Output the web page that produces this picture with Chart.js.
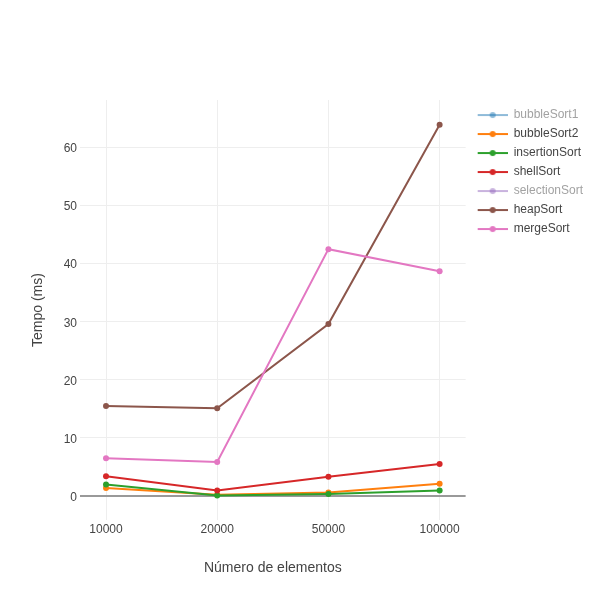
<!DOCTYPE html>
<html>
<head>
<meta charset="utf-8">
<script src="https://cdn.jsdelivr.net/npm/chart.js@4/dist/chart.umd.min.js"></script>
<style>
  html, body { margin: 0; padding: 0; background: #fff; }
  #wrap { width: 600px; height: 600px; }
</style>
</head>
<body>
<div id="wrap"><canvas id="chart"></canvas></div>
<script>
// x categories (number of elements)
const xLabels = ["10000", "20000", "50000", "100000"];

// times in ms
// bubbleSort1 and selectionSort are switched off in the legend, no values visible
const bubbleSort1 = [null, null, null, null];
const bubbleSort2 = [1.4, 0.2, 0.6, 2.1];
const insertionSort = [2.0, 0.1, 0.35, 0.95];
const shellSort = [3.4, 0.95, 3.3, 5.5];
const selectionSort = [null, null, null, null];
const heapSort = [15.5, 15.1, 29.6, 63.9];
const mergeSort = [6.5, 5.85, 42.5, 38.7];

const seriesNames = ["bubbleSort1", "bubbleSort2", "insertionSort", "shellSort", "selectionSort", "heapSort", "mergeSort"];
const seriesValues = [bubbleSort1, bubbleSort2, insertionSort, shellSort, selectionSort, heapSort, mergeSort];
const seriesColors = ["#1f77b4", "#ff7f0e", "#2ca02c", "#d62728", "#9467bd", "#8c564b", "#e377c2"];
const legendOnly = [true, false, false, false, true, false, false];
const yTicks = [0, 10, 20, 30, 40, 50, 60];

Chart.defaults.font.family = '"Liberation Sans", Arial, sans-serif';
Chart.defaults.font.size = 12;
Chart.defaults.color = "#444";

// little line+dot picture for each legend entry (5px blank on the left)
function legendIcon(color, faded) {
  const c = document.createElement("canvas");
  c.width = 35;
  c.height = 8;
  const g = c.getContext("2d");
  g.globalAlpha = faded ? 0.5 : 1;
  g.strokeStyle = color;
  g.fillStyle = color;
  g.lineWidth = 2;
  g.beginPath();
  g.moveTo(5, 4);
  g.lineTo(35, 4);
  g.stroke();
  g.beginPath();
  g.arc(20, 4, 3, 0, Math.PI * 2);
  g.fill();
  return c;
}
const icons = seriesColors.map((c, i) => legendIcon(c, legendOnly[i]));

const datasets = seriesNames.map((name, i) => ({
  label: name,
  data: seriesValues[i].map((v, j) => ({ x: j, y: v })),
  borderColor: seriesColors[i],
  backgroundColor: seriesColors[i],
  borderWidth: 2,
  pointRadius: 3,
  pointHoverRadius: 3,
  pointBorderWidth: 0,
  hidden: legendOnly[i],
  order: -i,
}));

new Chart(document.getElementById("chart"), {
  type: "line",
  data: { datasets: datasets },
  options: {
    responsive: true,
    maintainAspectRatio: false,
    animation: false,
    layout: { padding: { top: 100, right: 7, bottom: 0, left: 0 } },
    plugins: {
      tooltip: { enabled: false },
      legend: {
        position: "right",
        align: "start",
        title: { display: true, text: "", font: { size: 1.7 }, padding: 0 },
        labels: {
          usePointStyle: true,
          pointStyleWidth: 35,
          padding: 7,
          font: { size: 12 },
          generateLabels: (chart) =>
            chart.data.datasets.map((ds, i) => ({
              text: ds.label,
              fillStyle: ds.borderColor,
              strokeStyle: ds.borderColor,
              lineWidth: 0,
              hidden: false,
              pointStyle: icons[i],
              datasetIndex: i,
              fontColor: legendOnly[i] ? "#a2a2a2" : "#444",
            })),
        },
      },
    },
    scales: {
      x: {
        type: "linear",
        min: -0.234,
        max: 3.234,
        afterBuildTicks: (s) => { s.ticks = xLabels.map((l, i) => ({ value: i })); },
        afterFit: (s) => { s.height = 80; },
        ticks: {
          padding: 2,
          color: "#444",
          callback: (v) => xLabels[v],
        },
        grid: { color: "#eee", drawTicks: false },
        border: { display: false },
        title: {
          display: true,
          text: "Número de elementos",
          color: "#444",
          font: { size: 14 },
          padding: { top: 0, bottom: 23 },
        },
      },
      y: {
        min: -4.13,
        max: 68.18,
        afterBuildTicks: (s) => { s.ticks = yTicks.map((v) => ({ value: v })); },
        afterFit: (s) => { s.width = 80; },
        ticks: { padding: 3, color: "#444", labelOffset: 1.5 },
        grid: {
          color: (ctx) => (ctx.tick && ctx.tick.value === 0 ? "#999" : "#eee"),
          lineWidth: (ctx) => (ctx.tick && ctx.tick.value === 0 ? 2 : 1),
          drawTicks: false,
        },
        border: { display: false },
        title: {
          display: true,
          text: "Tempo (ms)",
          color: "#444",
          font: { size: 14 },
          padding: { top: 30, bottom: 0 },
        },
      },
    },
  },
});
</script>
</body>
</html>
